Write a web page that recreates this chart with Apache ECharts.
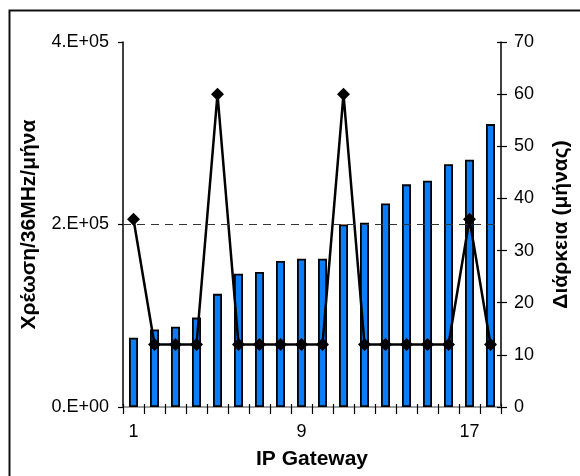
<!DOCTYPE html>
<html>
<head>
<meta charset="utf-8">
<script src="https://cdn.jsdelivr.net/npm/echarts@6/dist/echarts.min.js"></script>
<style>
html,body{margin:0;padding:0;background:#fff;}
#c{width:580px;height:476px;}
</style>
</head>
<body>
<div id="c"></div>
<script>
var categories = ['1','2','3','4','5','6','7','8','9','10','11','12','13','14','15','16','17','18'];
var charges = [76000, 85000, 88000, 98000, 124000, 146000, 148000, 160000, 162500, 162500, 200000, 202000, 223000, 244000, 248000, 266000, 271000, 310000];
var durations = [36, 12, 12, 12, 60, 12, 12, 12, 12, 12, 60, 12, 12, 12, 12, 12, 36, 12];
var leftTicks = { 0: '0.E+00', 200000: '2.E+05', 400000: '4.E+05' };

var font = 'Arial, "Liberation Sans", sans-serif';
var chart = echarts.init(document.getElementById('c'), null, {renderer: 'canvas'});
chart.setOption({
  animation: false,
  backgroundColor: '#fff',
  graphic: [{
    type: 'rect', left: 7, top: 8, silent: true, z: -1,
    shape: {width: 590, height: 490},
    style: {fill: 'none', stroke: '#111', lineWidth: 2}
  }],
  grid: {left: 123, right: 78, top: 42, bottom: 69},
  xAxis: [{
    type: 'category',
    data: categories,
    boundaryGap: true,
    name: 'IP Gateway',
    nameLocation: 'middle',
    nameGap: 42,
    nameTextStyle: {fontFamily: font, fontSize: 21, fontWeight: 'bold', color: '#000'},
    axisLine: {lineStyle: {color: '#000', width: 1.5}},
    axisTick: {show: true, interval: 0, length: 7, lineStyle: {color: '#000', width: 1.2}},
    axisLabel: {interval: 7, margin: 16, fontFamily: font, fontSize: 18, color: '#000'},
    splitLine: {show: false}
  }, {
    type: 'category',
    data: categories,
    position: 'top',
    axisLine: {show: true, lineStyle: {color: '#a0a0a0', width: 2}},
    axisTick: {show: false},
    axisLabel: {show: false},
    splitLine: {show: false}
  }, {
    type: 'category',
    data: categories,
    position: 'bottom',
    axisLine: {show: false},
    axisTick: {show: true, inside: true, interval: 0, length: 3, lineStyle: {color: '#000', width: 1.2}},
    axisLabel: {show: false},
    splitLine: {show: false}
  }],
  yAxis: [{
    type: 'value',
    min: 0, max: 400000, interval: 200000,
    name: 'Χρέωση/36MHz/μήνα',
    nameLocation: 'middle',
    nameRotate: 90,
    nameGap: 83,
    nameTextStyle: {fontFamily: font, fontSize: 21, fontWeight: 'bold', color: '#000'},
    axisLine: {show: true, lineStyle: {color: '#000', width: 1.5}},
    axisTick: {show: true, length: 5, lineStyle: {color: '#000', width: 1.2}},
    axisLabel: {margin: 14, fontFamily: font, fontSize: 18, color: '#000',
      formatter: function (v) { return leftTicks[v] !== undefined ? leftTicks[v] : ''; }},
    splitLine: {show: false}
  }, {
    type: 'value',
    min: 0, max: 70, interval: 10,
    position: 'right',
    name: 'Διάρκεια (μήνας)',
    nameLocation: 'middle',
    nameRotate: 90,
    nameGap: 50,
    nameTextStyle: {fontFamily: font, fontSize: 21, fontWeight: 'bold', color: '#000'},
    axisLine: {show: true, lineStyle: {color: '#000', width: 1.5}},
    axisTick: {show: true, length: 6, lineStyle: {color: '#000', width: 1.2}},
    axisLabel: {margin: 13, fontFamily: font, fontSize: 18, color: '#000'},
    splitLine: {show: false}
  }, {
    type: 'value',
    min: 0, max: 70, interval: 10,
    position: 'right',
    axisLine: {show: false},
    axisTick: {show: true, inside: true, length: 4, lineStyle: {color: '#000', width: 1.2}},
    axisLabel: {show: false},
    splitLine: {show: false}
  }],
  series: [{
    type: 'bar',
    data: charges,
    xAxisIndex: 0, yAxisIndex: 0,
    barWidth: 9,
    itemStyle: {color: '#0a7ef9', borderColor: '#000', borderWidth: 1.8},
    markLine: {
      silent: true, symbol: 'none', label: {show: false},
      lineStyle: {color: '#333', type: [8, 6], width: 1},
      data: [{yAxis: 200000}]
    },
    z: 2
  }, {
    type: 'line',
    data: durations,
    xAxisIndex: 0, yAxisIndex: 1,
    symbol: 'diamond',
    symbolSize: 13,
    lineStyle: {color: '#000', width: 2.5},
    itemStyle: {color: '#000'},
    z: 3
  }]
});
</script>
</body>
</html>
